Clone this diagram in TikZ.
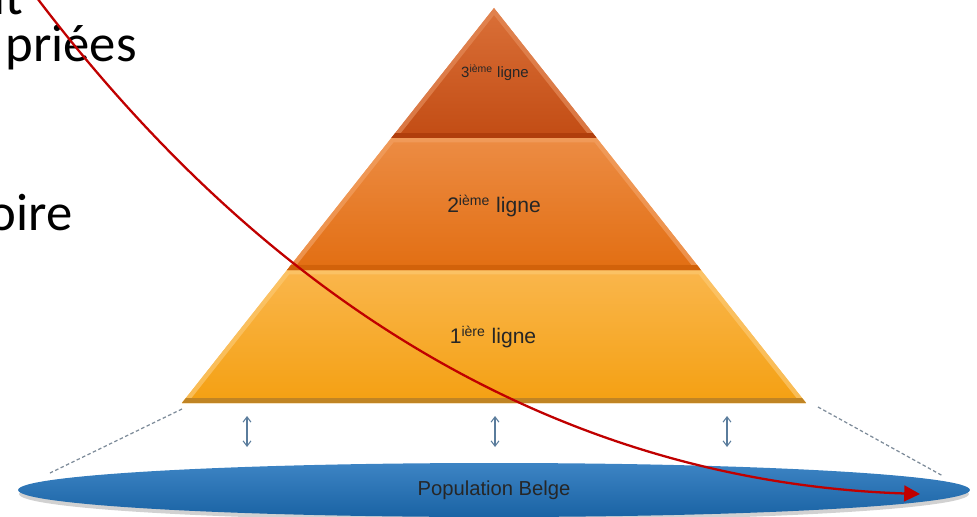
\documentclass[tikz,border=0pt]{standalone}
\usepackage{fontspec}
\setmainfont{Liberation Sans}
\newfontfamily\slidefont{Carlito}
\usetikzlibrary{arrows.meta,shapes.geometric}

\definecolor{lunetop}{HTML}{FAB64C}
\definecolor{lunebot}{HTML}{F4A012}
\definecolor{luneedge}{HTML}{FCC870}
\definecolor{lunedark}{HTML}{C08424}
\definecolor{ldeuxtop}{HTML}{EC8C44}
\definecolor{ldeuxbot}{HTML}{E26E12}
\definecolor{ldeuxedge}{HTML}{F2A062}
\definecolor{ldeuxdark}{HTML}{D2620A}
\definecolor{ltroistop}{HTML}{DA7038}
\definecolor{ltroisbot}{HTML}{C24C14}
\definecolor{ltroisedge}{HTML}{E48A58}
\definecolor{ltroisdark}{HTML}{B03E0C}
\definecolor{poptop}{HTML}{3D84C4}
\definecolor{popbot}{HTML}{1A63A4}
\definecolor{gaugeblue}{HTML}{5A7C9C}
\definecolor{rimgrey}{HTML}{7D8B99}
\definecolor{flowred}{HTML}{C00000}

\tikzset{
  slide/.style={font=\slidefont\fontsize{30}{36}\selectfont, anchor=base east, inner sep=0pt},
  layer/.style={font=\fontsize{12}{14}\selectfont, text=black!85, inner sep=1pt},
  gauge/.style={{Straight Barb[length=3pt,width=4.5pt]}-{Straight Barb[length=3pt,width=4.5pt]}, draw=gaugeblue, line width=.6pt},
  rim/.style={draw=rimgrey, line width=.7pt, dash pattern=on 2pt off 1.4pt},
  flow/.style={draw=flowred, line width=1.3pt, -{Triangle[length=9pt,width=9pt]}},
}

\begin{document}
\begin{tikzpicture}[x=0.02cm,y=-0.02cm]
\useasboundingbox (0,0) rectangle (977,517);

% bits of the slide text on the left
\node[slide] (wit) at (24,15) {it};
\node[slide] (wpriees) at (137,62) {priées};
\node[slide] (woire) at (73,230) {oire};

% pyramid, bottom to top
\foreach \ytop/\ybot/\ctop/\cbot/\cedge/\cdark in {270/403/lunetop/lunebot/luneedge/lunedark,
    138/270/ldeuxtop/ldeuxbot/ldeuxedge/ldeuxdark,
    8/138/ltroistop/ltroisbot/ltroisedge/ltroisdark}{
  \coordinate (tl) at ({494-0.79*(\ytop-8)},\ytop);
  \coordinate (tr) at ({494+0.79*(\ytop-8)},\ytop);
  \coordinate (br) at ({494+0.79*(\ybot-8)},\ybot);
  \coordinate (bl) at ({494-0.79*(\ybot-8)},\ybot);
  \shade[top color=\ctop,bottom color=\cbot] (tl) -- (tr) -- (br) -- (bl) -- cycle;
  \begin{scope}
    \clip (tl) -- (tr) -- (br) -- (bl) -- cycle;
    \draw[\cedge, line width=5pt, opacity=.7] (tl) -- (tr) -- (br) -- (bl) -- cycle;
    \draw[\cdark, line width=6pt] (bl) -- (br);
  \end{scope}
}
\node[layer, font=\fontsize{8.5}{10}\selectfont] (troisieme) at (495,73) {3\textsuperscript{ième} ligne};
\node[layer] (deuxieme) at (494,206) {2\textsuperscript{ième} ligne};
\node[layer] (premiere) at (493,337) {1\textsuperscript{ière} ligne};

% population
\fill[black, opacity=.18] (494,494) ellipse [x radius=9.5cm, y radius=0.54cm];
\node[ellipse, minimum width=19.04cm, minimum height=1.08cm, inner sep=0pt,
  top color=poptop, bottom color=popbot, font=\fontsize{11.5}{13}\selectfont, text=black!85] (pop) at (494,490) {Population Belge};

% dashed rims
\coordinate (rimL1) at (182,409);
\coordinate (rimL2) at (50,473);
\coordinate (rimR1) at (818,407);
\coordinate (rimR2) at (943,476);
\draw[rim] (rimL1) -- (rimL2);
\draw[rim] (rimR1) -- (rimR2);

% double arrows
\foreach \x/\n in {247/a,495/b,727/c}{
  \coordinate (g\n top) at (\x,416);
  \coordinate (g\n bot) at (\x,447);
  \draw[gauge] (g\n top) -- (g\n bot);
}

% red arrow
\coordinate (flowstart) at (34,-6);
\coordinate (flowend) at (920,494);
\draw[flow] (flowstart) .. controls (326,380) and (650,485) .. (flowend);
\end{tikzpicture}
\end{document}
